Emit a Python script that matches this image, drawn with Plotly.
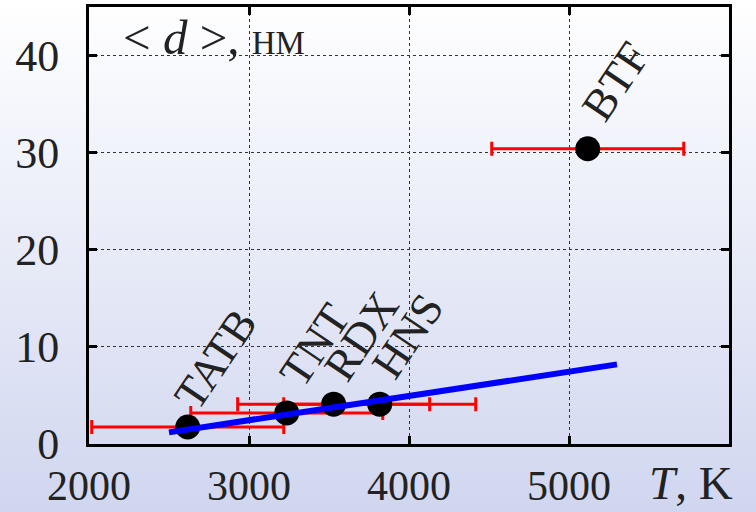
import plotly.graph_objects as go

# Data
names = ["TATB", "TNT", "RDX", "HNS", "BTF"]
temps = [2617, 3236, 3529, 3817, 5117]
sizes = [1.75, 3.2, 4.1, 4.1, 30.4]
temp_err = [600, 600, 600, 600, 600]

fit_t = [2500, 5300]
fit_d = [1.2, 8.2]

x_ticks = [2000, 3000, 4000, 5000]
y_ticks = [0, 10, 20, 30, 40]

FONT = "Liberation Serif"

fig = go.Figure()

# error bars (under markers)
fig.add_trace(go.Scatter(
    x=temps, y=sizes, mode="markers",
    marker=dict(size=1, color="rgba(0,0,0,0)"),
    error_x=dict(type="data", array=temp_err, visible=True,
                 color="#ff0000", thickness=3, width=7),
    hoverinfo="skip", showlegend=False,
))
# points
fig.add_trace(go.Scatter(
    x=temps, y=sizes, mode="markers",
    marker=dict(size=25, color="black"),
    showlegend=False,
))
# fit line
fig.add_trace(go.Scatter(
    x=fit_t, y=fit_d, mode="lines",
    line=dict(color="#0000ff", width=6),
    showlegend=False,
))

# labels
for n, t, d in zip(names, temps, sizes):
    fig.add_annotation(
        x=t, y=d, text=n, showarrow=False,
        textangle=-56, xshift=28, yshift=68,
        xanchor="center", yanchor="middle",
        font=dict(family=FONT, size=45, color="#222222"),
    )

# axis titles inside
fig.add_annotation(
    xref="paper", yref="paper", x=0.05, y=0.93,
    xanchor="left", yanchor="middle", showarrow=False,
    text="&lt; <i>d</i> &gt;, <span style='font-size:33px'>НМ</span>",
    font=dict(family=FONT, size=49, color="#222222"),
)
fig.add_annotation(
    xref="paper", yref="paper", x=0.872, y=-0.09,
    xanchor="left", yanchor="middle", showarrow=False,
    text="<i>T</i>, K",
    font=dict(family=FONT, size=47, color="#222222"),
)

# gradient background bands
n_bands = 64
top = (255, 255, 255)
bot = (208, 214, 239)
for i in range(n_bands):
    f = (i + 0.5) / n_bands
    c = tuple(round(top[k] + (bot[k] - top[k]) * f) for k in range(3))
    y1 = 1 + 7 / 437 - i * (512 / 437) / n_bands
    y0 = y1 - (512 / 437) / n_bands - 0.002
    fig.add_shape(type="rect", xref="paper", yref="paper",
                  x0=-89 / 640, x1=1 + 27 / 640, y0=y0, y1=y1 + 0.002,
                  fillcolor="rgb(%d,%d,%d)" % c, line=dict(width=0),
                  layer="below")

axis_common = dict(
    showline=True, linecolor="black", linewidth=3, mirror="allticks",
    ticks="inside", ticklen=8, tickwidth=3, tickcolor="black",
    showgrid=True, gridcolor="#333333", gridwidth=1, griddash="dot",
    zeroline=False, automargin=False,
)

fig.update_xaxes(range=[2000, 6000], tickvals=x_ticks,
                 ticktext=[str(v) for v in x_ticks],
                 ticklabelstandoff=3,
                 tickfont=dict(family=FONT, size=42, color="#222222"),
                 **axis_common)
fig.update_yaxes(range=[0, 45], tickvals=y_ticks,
                 ticktext=[str(v) for v in y_ticks],
                 ticklabelstandoff=18,
                 tickfont=dict(family=FONT, size=44, color="#222222"),
                 **axis_common)

fig.update_layout(
    width=756, height=512,
    margin=dict(l=89, r=27, t=7, b=68),
    paper_bgcolor="white", plot_bgcolor="rgba(0,0,0,0)",
    showlegend=False,
)

fig.write_html("out.html", config={"displayModeBar": False},
               post_script="document.body.style.margin='0px';")
